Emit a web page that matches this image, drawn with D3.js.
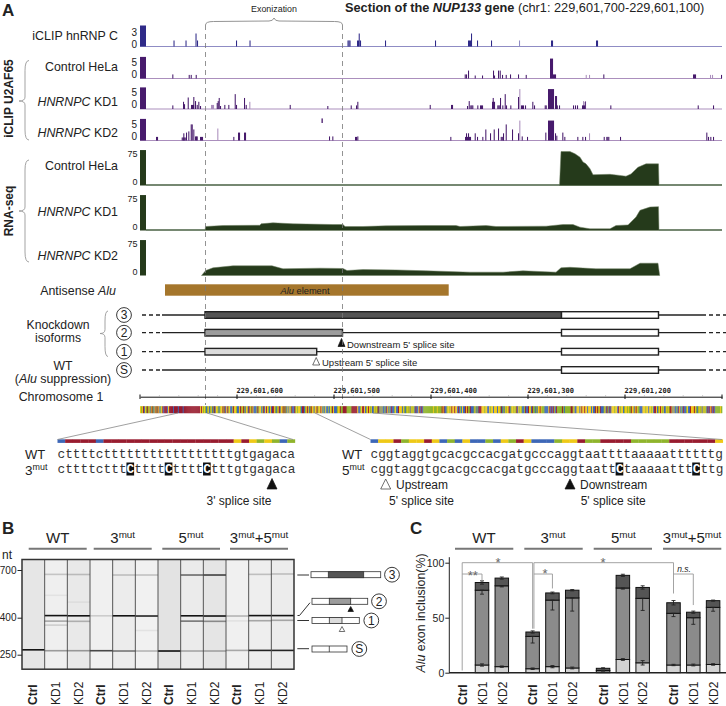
<!DOCTYPE html>
<html><head><meta charset="utf-8">
<script src="https://cdn.jsdelivr.net/npm/d3@7"></script>
<style>
html,body{margin:0;padding:0;background:#fff}
svg{display:block}
text{font-family:"Liberation Sans",Arial,sans-serif;fill:#222}
</style></head><body><svg id="c" width="726" height="706"></svg>
<script>
// ---------- Panel A data ----------
const trackBins = [0, 582];
const genomeRange = [229601700, 229601100];
const rulerTicks = [229601600, 229601500, 229601400, 229601300, 229601200];
const exonizationBins = [65.5, 202.5];

const leftBarHnrnpc = 5.25, leftBarU2af = 9, leftBarRna = 95;

const hnrnpcPeaks = [[33.5,1.5],[45.5,1.5],[55.5,3.25],[57,1.5],[96,1.5],[109.5,1.5],[207.5,1.5],[208.5,1.5],[209.5,1.5],[217,1.5],[218,1.5],[218.7,3.25],[220,1.5],[245,1.5],[295,1.5],[328,1.5],[329,1.5],[330,1.5],[331,3.25],[337,1.5],[351,1.5],[411,1.5],[412,1.5],[456,1.5],[457,1.5]];
const hnrnpcLight = [[379,1.5]];

const controlClip = [[32.3,1.7],[48.7,1.5],[50.7,1.5],[55.7,1.5],[324.7,1.7],[326,1.7],[328,3.3],[334.7,1.25],[342,1.25],[353,3.3],[354,1.25],[358,3.3],[359.7,3.3],[362,1.5],[365.7,1.5],[370,1.7],[378,1.7],[385.7,1.5],[410,8.3],[411,8.3],[412,8.3],[413,1.7],[414,1.7],[415,1.7],[463.3,1.7],[553,1.7],[554,1.7],[555,1.7],[581,1.5]];
const controlClipLight = [[445.7,1.5],[449,1.5],[570,1.5],[572,1.5]];

const kd1Clip = [[32.3,1.5],[43,3],[44,2],[47.7,4.8],[51,1.7],[52,1.7],[53,1.7],[53.3,5],[55,3.3],[56.7,1.7],[58.3,3],[60,1.25],[76.7,2.5],[77.7,3.3],[78.7,4.6],[80,1.25],[84.3,1.7],[88.3,1.7],[94.7,6.2],[96,1.7],[104,4.6],[105.7,1.7],[149.7,1.7],[187.3,1.25],[210.7,1.5],[216,1.5],[217.3,3],[289.7,1.7],[311,1.7],[312,1.7],[327,1.25],[328.7,3.3],[330.3,1.5],[331.3,1.5],[332.3,1.5],[337.3,1.5],[340,1.5],[341,1.5],[342,1.5],[352,3],[352.7,4.6],[353,3],[354,3],[357.3,1.5],[358.3,1.5],[359.3,1.5],[360,4.6],[362.3,1.5],[364.7,6.2],[366,1.5],[370.3,1.5],[378,5],[381,1.5],[382,1.5],[383,1.5],[385,1.5],[392.3,3],[394,1.5],[404.7,1.5],[405.7,1.5],[408,8.3],[409,8.3],[410,8.3],[411,8.3],[412,8.3],[413,8.3],[415,5.4],[416,5.4],[416.8,1.5],[419,1.5],[433,1.5],[435,1.5],[437,1.5],[442,1.5],[443,1.5],[444,1.5],[444.7,3],[470.3,1.5],[557.7,1.5],[573,1.5]];
const kd1ClipLight = [[71,1.7],[72,1.7],[73,1.7],[109.3,3],[379.3,8.3],[443,3.3],[445,3.3]];

const kd2Clip = [[16,1.5],[17,1.5],[41.7,1.25],[42.7,1.25],[43.7,1.25],[44.7,1.25],[43.3,3],[46,3.3],[48.3,3.8],[50.7,6.7],[51.7,6.7],[53.3,4.6],[55,1.7],[56,1.7],[56.7,1.7],[60,1.5],[61,1.5],[62,1.5],[93.3,1.5],[98,3.3],[99,3.3],[104,3.3],[105,3.3],[189,1.7],[192.3,1.7],[215,1.5],[216,1.5],[217.3,1.7],[310.3,1.5],[325,1.5],[326,3],[327,1.5],[328,3],[329,1.5],[330,1.5],[334.7,3],[337,1.5],[342.3,1.5],[345.3,4.6],[350,3],[353.7,4.6],[358,5],[360.7,1.5],[361.7,1.5],[362.7,1.5],[363,3],[365.7,6.7],[372,4.6],[378,3],[381.7,1.7],[387,1.5],[405.3,3.3],[408,8.3],[409,8.3],[410,8.3],[411,8.3],[412,8.3],[413,8.3],[415,3],[416.3,2],[422.3,3.3],[424.3,1.5],[437.3,1.5],[442.3,1.5],[445,1.5],[463.7,1.5],[466.3,1.5],[467.3,1.5],[468.3,1.5],[480,1.5],[566.3,3.3],[568,1.5],[570.3,1.5],[573,1.5]];
const kd2ClipLight = [[77.3,5],[379.3,8.3],[449,3]];
const kd2Floating = [181.5, 7.3, 9.2];

const controlRna = [[419.5,0],[421,91],[430,91],[435,85],[440,76],[443,63],[446,58],[450,45],[453,29],[470,30],[480,27],[486,25],[491,31],[498,49],[506,58],[518.5,58],[519,0]];
const kd1Rna = [[65,0],[65.5,10.7],[83,13.4],[120,14],[121,17.9],[133,20.6],[153,18],[193,16],[203,16],[205,10.7],[223,10.7],[246,12.5],[286,13.4],[316,13.4],[320,10.7],[346,13.4],[356,10.7],[406,11.6],[423,16],[433,16],[440,9],[450,4.5],[470,4.5],[476,13.4],[488,15],[496,36],[500,54],[510,63],[518.5,64],[519,0]];
const kd2Rna = [[61.5,0],[65.7,13.4],[73,20.6],[93,26],[132,26],[143,18],[180,19.7],[203,18.8],[207,13.4],[223,16],[256,15],[286,12.5],[330,9],[363,9],[383,12.5],[416,9],[421,20.6],[430,22],[456,18],[490,18],[500,33],[518,33],[519.7,0]];

const aluBins = [25, 308.7];
const isoRowNames = ["3","2","1","S"];
const exonGreyBins = {"3":[65,421.5],"2":[65,202.5],"1":[65,176.7]};
const exonEndBins = [421.5, 518.5];

const seq3WT  = "ctttt"+"c"+"ttttttttttttttttt"+"gtgagaca";
const seq3Mut = "ctttt"+"c"+"ttt"+"C"+"tttt"+"C"+"tttt"+"C"+"ttt"+"gtgagaca";
const seq5WT  = "cggtaggtgcacgccacgatgcccaggtaattttaaaaattttttg";
const seq5Mut = "cggtaggtgcacgccacgatgcccaggtaatt"+"C"+"taaaaattt"+"C"+"ttg";
const seqBefore = "gagtcgatagcgtacgtatgcagtctttcgttttctttt";
const seqMiddle = "gcagcatcggacaggtatcgtagccatggaccgtagtacggctgatgcccataggcatcgtgacgcttgacagtcggtatacgcgatcctagaggacttcagtgcatgg";
const seqAfter = "ccagttgcagtgagccgagatcgcgccactgcactccagcctgggcgacagagcgagact"+
  "ccgtctcaaaaaaaaaagaaagaaaatgtccaggagtggtggctcacgcctgtaatccca"+
  "gcactttgggaggccgaggcgggcggatcacgaggtcaggagatcgagaccatcctggct"+
  "aacacggtgaaaccccgtctctactaaaaatacaaaaaattagccgggcgtggtggcggg"+
  "cgcctgtagtcccagctactcgggaggctgaggcaggagaatggcgtgaacccgggaggc"+
  "ggagcttgcagtgagccgagattgcgccactgcactccagcctgggtgacagagcgagac"+
  "tctgtctcaaaaagaaagaaagtaccgagtttgcaaccgtatgacggatcagtcc";

// ---------- Panel B data ----------
const groupNames = ["WT","3mut","5mut","3mut+5mut"];
const laneNames = ["Ctrl","KD1","KD2"];
const gelSizes = [250, 400, 700];
const gelShades = ["#e6e6e6","#efefef","#e9e9e9","#f0f0f0","#ececec","#f1f1f1","#e3e3e3","#ebebeb","#e5e5e5","#f0f0f0","#eeeeee","#ececec"];
const gelBands = [
  [[266,.92]],
  [[410,.92],[665,.18],[383,.3],[364,.14],[263,.35],[520,.05]],
  [[409,.92],[664,.2],[382,.25],[263,.35],[480,.05]],
  [[263,.7],[409,.15]],
  [[409,.92],[660,.2],[262,.5]],
  [[408,.85],[660,.2],[262,.25],[340,.06]],
  [[262,.95]],
  [[409,.92],[660,.55],[383,.5],[262,.3]],
  [[408,.92],[660,.72],[382,.4],[262,.3]],
  [[408,.25],[264,.3],[384,.06]],
  [[410,.92],[665,.2],[385,.3],[264,.85]],
  [[410,.92],[668,.2],[387,.3],[264,.85]]
];

// ---------- Panel C data ----------
const barLow = [null,7,5.5, 3.6,5.5,4.3, 0.3,12,9, 7,7,7.5];
const barMid = [null,75,79, 33,66,68, 2,77,67.6, 54,50,59.4];
const barTop = [null,82,86, 37,72.5,75, 4,88.5,77.5, 63.6,55,65.5];
const errLow = [null,1,.6, .7,1,.8, 0,.8,2, .6,.8,.7];
const errMid = [null,3.6,1, 6,9,12, .5,1,11, 3,6,3.5];
const errTop = [null,1.5,1, 1,.8,.6, .5,1,1.5, 2,1,.5];
const percentTicks = [0, 50, 100];

const svg = d3.select("#c");
const binX = d3.scaleLinear(trackBins, [140, 722]);
const genomeX = d3.scaleLinear(genomeRange, [140, 722]);
const ntW = binX(1) - binX(0);

function text(x, y, parts, o = {}) {
  const fs = o.size || 12;
  const t = (o.parent || svg).append("text")
    .attr("transform", `translate(${x},${y})` + (o.rotate ? ` rotate(${o.rotate})` : ""))
    .attr("text-anchor", o.anchor || "start")
    .attr("dominant-baseline", o.base || "auto")
    .attr("font-size", fs);
  if (o.fill) t.style("fill", o.fill);
  if (o.family) t.style("font-family", o.family);
  if (o.bold) t.attr("font-weight", "bold");
  if (o.italic) t.attr("font-style", "italic");
  (Array.isArray(parts) ? parts : [parts]).forEach(p => {
    const q = typeof p === "string" ? {t: p} : p;
    const s = t.append("tspan").text(q.t);
    if (q.i) s.attr("font-style", "italic");
    if (q.b) s.attr("font-weight", "bold");
    if (q.sup) s.attr("baseline-shift", fs * 0.35).attr("font-size", fs * 0.66);
  });
  return t;
}
const kdLabel = k => [{t:"HNRNPC", i:1}, " " + k];

// ---- panel letters and title
text(2, 15.5, "A", {size:17, bold:1});
text(2, 534, "B", {size:17, bold:1});
text(410, 534, "C", {size:17, bold:1});
text(345, 11.6, [{t:"Section of the ",b:1},{t:"NUP133",b:1,i:1},{t:" gene ",b:1},"(chr1: 229,601,700-229,601,100)"], {size:12.75});

// ---- tracks
function clipTrack(base, unit, dark, light, peaks, lightPeaks, left) {
  const y = d3.scaleLinear([0, 10], [base, base - 10 * unit]);
  svg.append("line").attr("x1", binX(0)).attr("x2", binX(582)).attr("y1", base).attr("y2", base)
     .attr("stroke", light).attr("stroke-width", 1);
  const draw = (arr, c) => svg.append("g").selectAll("rect").data(arr).join("rect")
    .attr("x", d => binX(d[0])).attr("width", ntW * 1.05)
    .attr("y", d => y(d[1])).attr("height", d => base - y(d[1])).attr("fill", c);
  draw(lightPeaks, light);
  draw(peaks, dark);
  svg.append("rect").attr("x", binX(0)).attr("width", binX(6) - binX(0))
     .attr("y", y(left)).attr("height", base - y(left)).attr("fill", dark);
  return y;
}
const tHn = clipTrack(46.5, 4, "#2f2a88", "#8f8cc4", hnrnpcPeaks, hnrnpcLight, leftBarHnrnpc);
const tC  = clipTrack(78.5, 2.4, "#471a6c", "#ab8fbd", controlClip, controlClipLight, leftBarU2af);
const t1  = clipTrack(109, 2.4, "#471a6c", "#ab8fbd", kd1Clip, kd1ClipLight, leftBarU2af);
const t2  = clipTrack(140.5, 2.4, "#471a6c", "#ab8fbd", kd2Clip, kd2ClipLight, leftBarU2af);
svg.append("rect").attr("x", binX(kd2Floating[0])).attr("width", ntW * 1.3)
   .attr("y", t2(kd2Floating[2])).attr("height", t2(kd2Floating[1]) - t2(kd2Floating[2])).attr("fill", "#471a6c");

function rnaTrack(base, series, baseSegs) {
  const y = d3.scaleLinear([0, 100], [base, base - 37.3]);
  const c = "#253a1b";
  baseSegs.forEach(s => svg.append("line").attr("x1", binX(s[0])).attr("x2", binX(s[1]))
    .attr("y1", base - .5).attr("y2", base - .5).attr("stroke", "#486043").attr("stroke-width", 1.4));
  svg.append("path").datum(series).attr("fill", c)
     .attr("stroke", "#6c7f60").attr("stroke-width", .5)
     .attr("d", d3.area().x(d => binX(d[0])).y0(base).y1(d => y(d[1])));
  svg.append("rect").attr("x", binX(0)).attr("width", binX(6) - binX(0))
     .attr("y", y(leftBarRna)).attr("height", base - y(leftBarRna)).attr("fill", c);
  return y;
}
const rC = rnaTrack(185.5, controlRna, [[6,582]]);
const r1 = rnaTrack(230.5, kd1Rna, [[6,65],[519,582]]);
const r2 = rnaTrack(275.5, kd2Rna, []);

// ---- track axes numbers
[[tHn,[3,0],-2.8],[tC,[5,0],-4.8],[t1,[5,0],-4.8],[t2,[5,0],-4.2]].forEach(([s,v,off]) => {
  v.forEach(n => text(137, s(n) + off, String(n), {size:10, anchor:"end", base:"central"}));
});
[rC, r1, r2].forEach(s => [75,0].forEach(n => text(137.5, s(n) - 3.5, String(n), {size:9, anchor:"end", base:"central"})));

// ---- track labels
text(118, 36, "iCLIP hnRNP C", {size:12.4, anchor:"end", base:"central"});
text(118, 67, "Control HeLa", {size:12.4, anchor:"end", base:"central"});
text(118, 102, kdLabel("KD1"), {size:12.4, anchor:"end", base:"central"});
text(118, 132.5, kdLabel("KD2"), {size:12.4, anchor:"end", base:"central"});
text(118, 166, "Control HeLa", {size:12.4, anchor:"end", base:"central"});
text(118, 212, kdLabel("KD1"), {size:12.4, anchor:"end", base:"central"});
text(118, 256, kdLabel("KD2"), {size:12.4, anchor:"end", base:"central"});
text(9, 98.5, "iCLIP U2AF65", {size:12, bold:1, rotate:-90, anchor:"middle", base:"central"});
text(9, 211, "RNA-seq", {size:12, bold:1, rotate:-90, anchor:"middle", base:"central"});

function brace(xt, xe, y0, ym, y1) {
  const xs = (xt + xe) / 2 + 1;
  svg.append("path").attr("fill", "none").attr("stroke", "#999").attr("stroke-width", .9)
    .attr("d", `M${xe},${y0}Q${xs},${y0} ${xs},${y0+10}L${xs},${ym-4}Q${xs},${ym} ${xt},${ym}Q${xs},${ym} ${xs},${ym+4}L${xs},${y1-10}Q${xs},${y1} ${xe},${y1}`);
}
brace(19, 29, 60.5, 101, 140);
brace(19, 29, 160, 211, 262);
brace(100, 108, 311, 333.5, 356.5);

// ---- exonization guide
const ex0 = binX(exonizationBins[0]), ex1 = binX(exonizationBins[1]), exm = (ex0 + ex1) / 2;
svg.append("path").attr("fill", "none").attr("stroke", "#888").attr("stroke-width", .9)
  .attr("d", `M${ex0},25Q${ex0},21.5 ${ex0+8},21.5L${exm-5},21Q${exm-1},21 ${exm},18Q${exm+1},21 ${exm+5},21L${ex1-8},21.5Q${ex1},21.5 ${ex1},25`);
text(exm, 9, "Exonization", {size:8.9, anchor:"middle", base:"central"});

// ---- Alu element
svg.append("rect").attr("x", binX(aluBins[0])).attr("width", binX(aluBins[1]) - binX(aluBins[0]))
   .attr("y", 284.3).attr("height", 11.4).attr("fill", "#a5762c");
text(116, 290.5, [{t:"Antisense "},{t:"Alu",i:1}], {size:12.4, anchor:"end", base:"central"});
text(305, 290.5, [{t:"Alu",i:1}," element"], {size:9.3, anchor:"middle", base:"central"});

// ---- isoforms
const rowYs = {"3":315, "2":332.7, "1":351.7, "S":370};
isoRowNames.forEach(r => {
  const y = rowYs[r];
  svg.append("line").attr("x1",142).attr("x2",160).attr("y1",y).attr("y2",y).attr("stroke","#222").attr("stroke-width",1.3).attr("stroke-dasharray","4,3");
  svg.append("line").attr("x1",162).attr("x2",706).attr("y1",y).attr("y2",y).attr("stroke","#222").attr("stroke-width",1.3);
  svg.append("line").attr("x1",709).attr("x2",726).attr("y1",y).attr("y2",y).attr("stroke","#222").attr("stroke-width",1.3).attr("stroke-dasharray","4,3");
  if (exonGreyBins[r]) {
    svg.append("rect").attr("x", binX(exonGreyBins[r][0])).attr("width", binX(exonGreyBins[r][1]) - binX(exonGreyBins[r][0]))
       .attr("y", y-3.3).attr("height", 6.6)
       .attr("fill", {"3":"#555","2":"#9c9c9c","1":"#dcdcdc"}[r]).attr("stroke","#222").attr("stroke-width",1.4);
  }
  svg.append("rect").attr("x", binX(exonEndBins[0])).attr("width", binX(exonEndBins[1]) - binX(exonEndBins[0]))
     .attr("y", y-3.3).attr("height", 6.6).attr("fill","#fff").attr("stroke","#222").attr("stroke-width",1.4);
  svg.append("circle").attr("cx",124).attr("cy",y).attr("r",7.4).attr("fill","#fff").attr("stroke","#222").attr("stroke-width",.9);
  text(124, y+.3, r, {size:12, anchor:"middle", base:"central"});
});
function tri(cx, top, w, h, open) {
  svg.append("path").attr("d", `M${cx},${top}L${cx+w/2},${top+h}L${cx-w/2},${top+h}Z`)
     .attr("fill", open ? "#fff" : "#111").attr("stroke", open ? "#333" : "#111").attr("stroke-width", .7);
}
tri(binX(201.5), 338.5, 7, 8, false);
tri(binX(176.2), 357.5, 7, 7.5, true);
text(347, 343.5, "Downstream 5' splice site", {size:9.5, base:"central"});
text(322, 361.8, "Upstream 5' splice site", {size:9.5, base:"central"});
text(58, 324.5, "Knockdown", {size:12.2, anchor:"middle", base:"central"});
text(58, 337.5, "isoforms", {size:12.2, anchor:"middle", base:"central"});
text(63, 365.5, "WT", {size:12.2, anchor:"middle", base:"central"});
text(63, 378.5, ["(",{t:"Alu",i:1}," suppression)"], {size:12.4, anchor:"middle", base:"central"});
text(61, 397, "Chromosome 1", {size:12.4, anchor:"middle", base:"central"});

// ---- dashed guides
exonizationBins.forEach(b => svg.append("line").attr("x1", binX(b)).attr("x2", binX(b)).attr("y1", 25).attr("y2", 405)
  .attr("stroke", "#777").attr("stroke-width", .8).attr("stroke-dasharray", "5,4"));

// ---- ruler
const ruler = svg.append("g").attr("transform", "translate(0,396.7)")
  .call(d3.axisTop(genomeX).tickValues(rulerTicks).tickSize(0).tickFormat(d3.format(",")));
ruler.select(".domain").attr("stroke", "#111").attr("stroke-width", 1);
ruler.selectAll("text").attr("text-anchor", "start").attr("dx", "-1").attr("dy", "-1")
     .style("font-family", '"DejaVu Sans Mono"').attr("font-weight", "bold").attr("font-size", 7).style("fill","#222");
svg.append("g").selectAll("line").data(d3.range(229601680, 229601100, -20)).join("line")
   .attr("x1", d => genomeX(d)).attr("x2", d => genomeX(d)).attr("y1", 395).attr("y2", 397).attr("stroke", "#aaa").attr("stroke-width", .6);
svg.append("g").selectAll("line").data([...genomeRange, ...rulerTicks]).join("line")
   .attr("x1", d => genomeX(d)).attr("x2", d => genomeX(d)).attr("y1", 394.5).attr("y2", 399).attr("stroke", "#111").attr("stroke-width", 1);

// ---- colored nucleotide strip
const baseColor = {a:"#8fb42c", c:"#3d67b7", g:"#efc917", t:"#981c2f"};
const wholeSeq = (seqBefore + seq3WT + seqMiddle + seq5WT + seqAfter).slice(0, 600);
svg.append("g").selectAll("rect").data(wholeSeq.split("")).join("rect")
   .attr("x", (d,i) => genomeX(genomeRange[0] - i)).attr("width", ntW + .3)
   .attr("y", 406.2).attr("height", 7).attr("fill", d => baseColor[d]);

// ---- zoomed sequences
const charW = 7.66;
function seqBlock(x0, wt, mut) {
  const sx = d3.scaleBand(d3.range(wt.length), [x0, x0 + wt.length * charW]);
  svg.append("g").selectAll("rect").data(wt.split("")).join("rect")
     .attr("x", (d,i) => sx(i)).attr("width", sx.bandwidth() + .2)
     .attr("y", 439.3).attr("height", 3.6).attr("fill", d => baseColor[d]);
  const black = mut.split("").map((c,i) => c === "C" ? i : -1).filter(i => i >= 0);
  svg.append("g").selectAll("rect").data(black).join("rect")
     .attr("x", i => sx(i)).attr("width", sx.bandwidth()).attr("y", 462.5).attr("height", 13).attr("fill", "#111");
  const fam = '"Liberation Mono",monospace';
  text(x0, 454, wt, {size:12.77, family:fam, base:"central", fill:"#333"});
  const mt = svg.append("text").attr("transform", `translate(${x0},469)`).attr("font-size", 12.77).attr("dominant-baseline","central").style("font-family", fam).style("fill","#333");
  mut.split("").forEach(c => {
    const s = mt.append("tspan").text(c);
    if (c === "C") s.style("fill", "#fff").attr("font-weight", "bold");
  });
}
seqBlock(57.5, seq3WT, seq3Mut);
seqBlock(370.5, seq5WT, seq5Mut);
const zoomEdges = [[178,413,57.5,439.5],[207,413,293,439.5],[315,413,370.5,439.5],[373,413,722,439.5]];
svg.append("g").selectAll("line").data(zoomEdges).join("line")
   .attr("x1", d => d[0]).attr("y1", d => d[1]).attr("x2", d => d[2]).attr("y2", d => d[3])
   .attr("stroke", "#888").attr("stroke-width", .8);
text(25, 459, "WT", {size:13});
text(25, 474.5, ["3",{t:"mut",sup:1}], {size:13.5});
text(342, 459, "WT", {size:13});
text(342, 474.5, ["5",{t:"mut",sup:1}], {size:13.5});
tri(272, 478.5, 10, 10.5, false);
text(239, 500.5, "3' splice site", {size:12, anchor:"middle", base:"central"});
tri(385.7, 479, 10, 10, true);
text(396, 485, "Upstream", {size:12, base:"central"});
text(389, 500.5, "5' splice site", {size:12, base:"central"});
tri(570, 479, 10, 10, false);
text(580, 485, "Downstream", {size:12, base:"central"});
text(580.7, 500.5, "5' splice site", {size:12, base:"central"});

// ---- group headers
function groupHeader(cx, x0, x1, name) {
  svg.append("line").attr("x1", x0).attr("x2", x1).attr("y1", 548.7).attr("y2", 548.7).attr("stroke", "#777").attr("stroke-width", 2);
  const parts = name === "WT" ? ["WT"] : name === "3mut" ? ["3",{t:"mut",sup:1}] : name === "5mut" ? ["5",{t:"mut",sup:1}] : ["3",{t:"mut",sup:1},"+5",{t:"mut",sup:1}];
  text(cx, 542.5, parts, {size:15, anchor:"middle"});
}
groupHeader(57.7, 28.7, 86.7, groupNames[0]);
groupHeader(122.7, 93.7, 151.7, groupNames[1]);
groupHeader(191, 162.3, 220, groupNames[2]);
groupHeader(259, 230, 288, groupNames[3]);
groupHeader(484, 455, 513.3, groupNames[0]);
groupHeader(553, 524.3, 582.7, groupNames[1]);
groupHeader(623.3, 593.7, 652, groupNames[2]);
groupHeader(692, 663, 721.3, groupNames[3]);

// ---- Gel
const allLanes = d3.range(12);
const gelX = d3.scaleBand(allLanes, [22, 294]);
const gelY = d3.scaleLog(gelSizes, [654.7, 617.7, 570]);
svg.append("g").selectAll("rect").data(allLanes).join("rect")
   .attr("x", i => gelX(i)).attr("width", gelX.bandwidth()).attr("y", 559.5).attr("height", 109.7).attr("fill", i => gelShades[i]);
allLanes.forEach(i => {
  svg.append("g").selectAll("rect").data(gelBands[i]).join("rect")
     .attr("x", gelX(i)).attr("width", gelX.bandwidth())
     .attr("y", d => gelY(d[0]) - .8).attr("height", 1.6).attr("fill", "#000").attr("fill-opacity", d => d[1]);
});
svg.append("g").selectAll("line").data(allLanes.slice(1)).join("line")
   .attr("x1", i => gelX(i)).attr("x2", i => gelX(i)).attr("y1", 559.5).attr("y2", 669.2).attr("stroke", "#444").attr("stroke-width", .9);
svg.append("rect").attr("x",22).attr("y",559.5).attr("width",272).attr("height",109.7).attr("fill","none").attr("stroke","#333").attr("stroke-width",1.5);
const gelAxis = svg.append("g").attr("transform","translate(22,0)")
  .call(d3.axisLeft(gelY).tickValues(gelSizes).tickSize(4.5).tickPadding(1).tickFormat(d3.format("d")));
gelAxis.select(".domain").remove();
gelAxis.selectAll("line").attr("stroke","#222");
gelAxis.selectAll("text").attr("font-size",10).style("font-family",'"Liberation Sans"').style("fill","#222");
text(2, 559, "nt", {size:12});

function laneLabels(cxs) {
  cxs.forEach((x,i) => text(x, 705, laneNames[i % 3], {size:12, rotate:-90, base:"central", bold: i % 3 === 0}));
}
laneLabels(allLanes.map(i => gelX(i) + gelX.bandwidth() / 2));

// ---- isoform schematics beside gel
function sch(x0, x1, y, sec0, sec1, fill, circX, name) {
  svg.append("rect").attr("x",x0).attr("y",y-3).attr("width",x1-x0).attr("height",6).attr("fill","#fff").attr("stroke","#333").attr("stroke-width",.8);
  if (fill) svg.append("rect").attr("x",sec0).attr("y",y-3).attr("width",sec1-sec0).attr("height",6).attr("fill",fill).attr("stroke","#333").attr("stroke-width",.8);
  else svg.append("line").attr("x1",sec0).attr("x2",sec0).attr("y1",y-3).attr("y2",y+3).attr("stroke","#333").attr("stroke-width",.8);
  svg.append("circle").attr("cx",circX).attr("cy",y).attr("r",7.4).attr("fill","#fff").attr("stroke","#222").attr("stroke-width",.9);
  text(circX, y+.3, name, {size:12, anchor:"middle", base:"central"});
}
sch(311,380.7,574.7,328.3,363.7,"#555",392,"3");
sch(312,367.7,601.3,329.3,350.7,"#9c9c9c",379,"2");
sch(312,359.3,620.5,329.3,342,"#dcdcdc",371.3,"1");
sch(312,347,649,329.3,null,null,359.3,"S");
tri(350.7,606.5,5.5,5,false);
tri(342,626.5,5.5,5,true);
[[297.3,309,575],[297.3,309,620.5],[297.3,309,648.7]].forEach(d =>
  svg.append("line").attr("x1",d[0]).attr("x2",d[1]).attr("y1",d[2]).attr("y2",d[2]).attr("stroke","#333").attr("stroke-width",1));
svg.append("path").attr("d","M297.5,615.5L299.5,615.5L310,602.7").attr("fill","none").attr("stroke","#333").attr("stroke-width",1);

// ---- Bar chart
const y = d3.scaleLinear([0,100],[672.7,562.7]);
const groupX = d3.scalePoint(groupNames,[482,693.3]);
const laneX = d3.scalePoint(laneNames,[-19.8,19.8]);
const barX = i => groupX(groupNames[Math.floor(i/3)]) + laneX(laneNames[i%3]);
const barW = 13.5;
const bars = svg.append("g");
allLanes.filter(i => barTop[i] !== null).forEach(i => {
  const cx = barX(i);
  const seg = (a,b,c) => bars.append("rect").attr("x",cx-barW/2).attr("width",barW).attr("y",y(b)).attr("height",Math.max(0,y(a)-y(b)))
    .attr("fill",c).attr("stroke","#111").attr("stroke-width",1);
  seg(0,barLow[i],"#d2d2d2"); seg(barLow[i],barMid[i],"#8b8b8b"); seg(barMid[i],barTop[i],"#555");
  [[barLow[i],errLow[i],errLow[i]],[barMid[i],errMid[i],0],[barTop[i],errTop[i],errTop[i]]].forEach(([v,lo,hi]) => {
    const g = bars.append("g").attr("stroke","#222").attr("stroke-width",.9);
    g.append("line").attr("x1",cx).attr("x2",cx).attr("y1",y(v-lo)).attr("y2",y(v+hi));
    [v-lo,v+hi].forEach(w => g.append("line").attr("x1",cx-2).attr("x2",cx+2).attr("y1",y(w)).attr("y2",y(w)));
  });
});
svg.append("line").attr("x1",449).attr("x2",726).attr("y1",y(0)).attr("y2",y(0)).attr("stroke","#222").attr("stroke-width",1.6);
const ax = svg.append("g").attr("transform","translate(449.3,0)")
  .call(d3.axisLeft(y).tickValues(percentTicks).tickSize(4).tickPadding(1));
ax.select(".domain").attr("d",`M0,${y(105)}L0,${y(0)}`).attr("stroke","#222");
ax.selectAll("line").attr("stroke","#222");
ax.selectAll("text").attr("font-size",10.5).style("font-family",'"Liberation Sans"').style("fill","#222");
text(420.5, 613, [{t:"Alu",i:1}," exon inclusion(%)"], {size:12.4, rotate:-90, anchor:"middle", base:"central"});

// significance brackets
const ctrlX = barX(0), sigGray = "#999";
const sigPaths = [
  {pts:[[ctrlX,2],[ctrlX,100],[barX(3),100],[barX(3),40]]},
  {pts:[[ctrlX,89.7],[barX(1),89.7],[barX(1),83]]},
  {pts:[[barX(3)+1.3,40],[barX(3)+1.3,100],[barX(9),100],[barX(9),72]]},
  {pts:[[barX(3)+1.3,89.7],[barX(4),89.7],[barX(4),76.6]]},
  {pts:[[barX(9),89.7],[barX(10),89.7],[barX(10),61.5]]}
];
const sigLine = d3.line().x(d => d[0]).y(d => y(d[1]));
svg.append("g").selectAll("path").data(sigPaths).join("path")
   .attr("d", d => sigLine(d.pts)).attr("fill","none").attr("stroke",sigGray).attr("stroke-width",.9);
const sigLabels = [["**",barX(0)+10.5,92],["*",498,103],["*",545,93],["*",603,103]];
sigLabels.forEach(s => text(s[1], y(s[2]) + 3, s[0], {size:13, anchor:"middle", fill:"#666", base:"central"}));
text(684, y(90) - 4.5, "n.s.", {size:8.5, italic:1, anchor:"middle", base:"central"});
laneLabels(allLanes.map(barX).map(x => x + 0.8));
</script></body></html>
